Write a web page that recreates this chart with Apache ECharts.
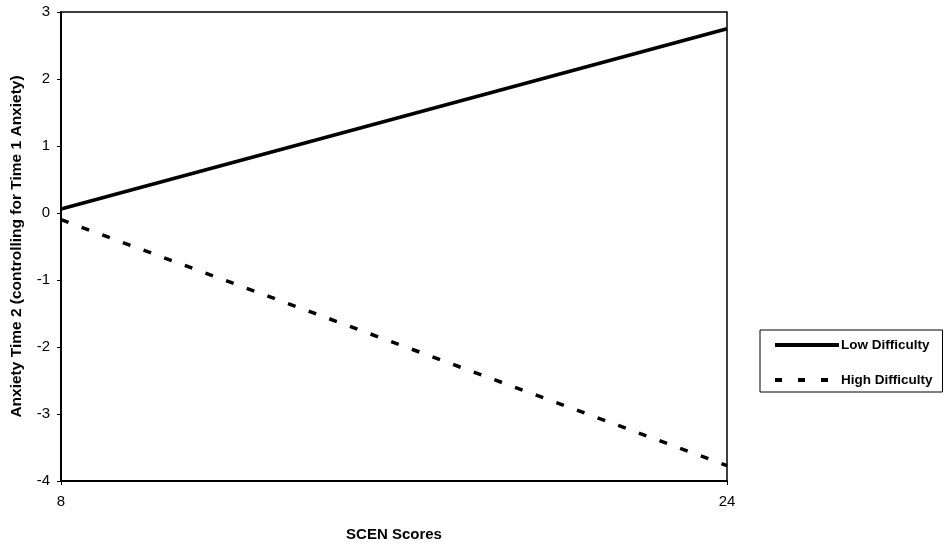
<!DOCTYPE html>
<html><head><meta charset="utf-8">
<script src="https://cdn.jsdelivr.net/npm/echarts@6/dist/echarts.min.js"></script>
<style>html,body{margin:0;padding:0;background:#fff}#c{width:948px;height:547px}</style>
</head><body><div id="c"></div>
<script>
const xValues = [8, 24];
const lowDifficulty = [0.06, 2.75];
const highDifficulty = [-0.1, -3.77];
const seriesNames = ['Low Difficulty', 'High Difficulty'];
const xTicks = [8, 24];

const chart = echarts.init(document.getElementById('c'));
const font = 'Liberation Sans, Arial, sans-serif';
chart.setOption({
  animation: false,
  backgroundColor: '#fff',
  grid: { left: 61, right: 221, top: 12, bottom: 64, show: true, borderColor: '#000', borderWidth: 1.5, backgroundColor: 'transparent' },
  xAxis: {
    type: 'value', min: 8, max: 24, interval: 16,
    name: 'SCEN Scores', nameLocation: 'middle', nameGap: 46,
    nameTextStyle: { fontFamily: font, fontSize: 15, fontWeight: 'bold', color: '#000' },
    axisLine: { onZero: false, lineStyle: { color: '#000', width: 2 } },
    axisTick: { show: true, length: 4, lineStyle: { color: '#000' } },
    axisLabel: { fontFamily: font, fontSize: 15, color: '#000', margin: 13,
      formatter: v => xTicks.includes(v) ? String(v) : '' },
    splitLine: { show: false }
  },
  yAxis: {
    type: 'value', min: -4, max: 3, interval: 1,
    name: 'Anxiety Time 2 (controlling for Time 1 Anxiety)', nameLocation: 'middle', nameGap: 36,
    nameTextStyle: { fontFamily: font, fontSize: 15.5, fontWeight: 'bold', color: '#000' },
    axisLine: { onZero: false, lineStyle: { color: '#000', width: 2 } },
    axisTick: { show: true, length: 4, lineStyle: { color: '#000' } },
    axisLabel: { fontFamily: font, fontSize: 15, color: '#000', margin: 11 },
    splitLine: { show: false }
  },
  legend: {
    orient: 'vertical', left: 760, top: 330,
    padding: [8, 10, 5, 13], itemGap: 21, itemWidth: 64, itemHeight: 14,
    borderColor: '#000', borderWidth: 1,
    itemStyle: { opacity: 0 },
    textStyle: { fontFamily: font, fontSize: 13.5, fontWeight: 'bold', color: '#000', padding: [0, 0, 0, -3] },
    data: [
      { name: seriesNames[0], lineStyle: { width: 4, type: 'solid', color: '#000' } },
      { name: seriesNames[1], lineStyle: { width: 4, type: [7, 16], color: '#000' } }
    ]
  },
  series: [
    { name: seriesNames[0], type: 'line', symbol: 'none', color: '#000',
      data: xValues.map((x, i) => [x, lowDifficulty[i]]),
      lineStyle: { color: '#000', width: 3.5, type: 'solid' } },
    { name: seriesNames[1], type: 'line', symbol: 'none', color: '#000',
      data: xValues.map((x, i) => [x, highDifficulty[i]]),
      lineStyle: { color: '#000', width: 3.5, type: [8, 14] } }
  ]
});
</script></body></html>
